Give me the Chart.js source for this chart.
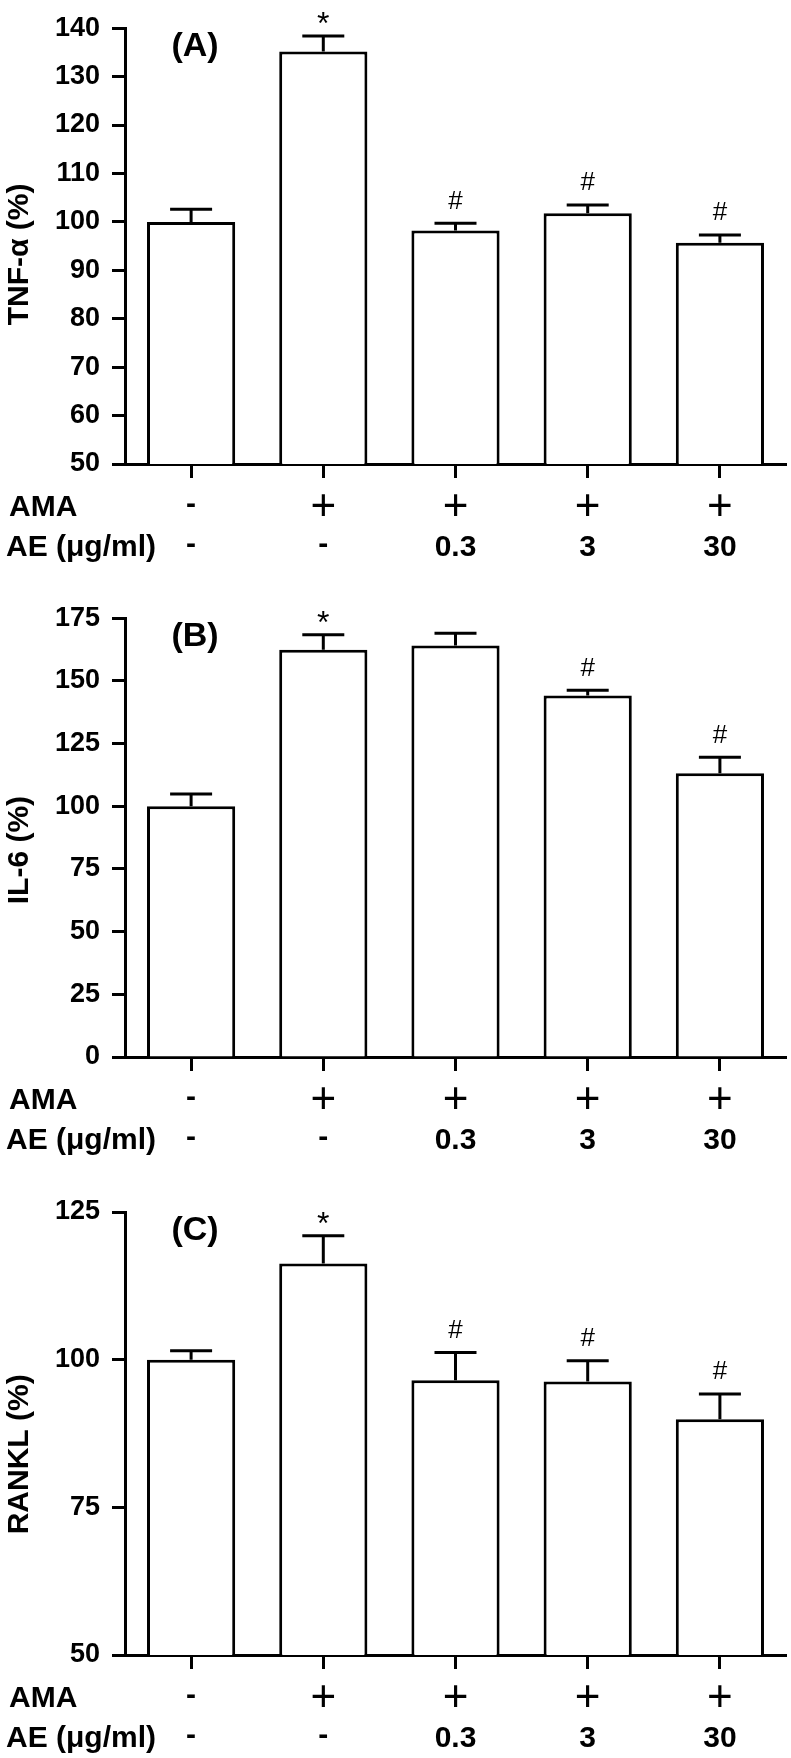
<!DOCTYPE html>
<html>
<head>
<meta charset="utf-8">
<script src="https://cdn.jsdelivr.net/npm/chart.js@4.4.0/dist/chart.umd.min.js"></script>
<style>
  body { margin: 0; background: #fff; }
  .panel { position: absolute; left: 0; width: 791px; }
</style>
</head>
<body>
<div class="panel" style="top:0;height:590px"><canvas id="chartA"></canvas></div>
<div class="panel" style="top:590px;height:590px"><canvas id="chartB"></canvas></div>
<div class="panel" style="top:1180px;height:578px"><canvas id="chartC"></canvas></div>
<script>
const categories = ["Control", "AMA", "AMA + AE 0.3", "AMA + AE 3", "AMA + AE 30"];
const amaRow = ["-", "+", "+", "+", "+"];
const aeRow = ["-", "-", "0.3", "3", "30"];

const tnfMean = [100, 135.2, 98.2, 101.8, 95.7];
const tnfErr = [2.6, 3.2, 1.5, 1.7, 1.6];
const tnfMarks = ["", "*", "#", "#", "#"];

const il6Mean = [100, 162.4, 164.1, 144.2, 113.2];
const il6Err = [4.9, 6.0, 4.9, 2.1, 6.3];
const il6Marks = ["", "*", "", "#", "#"];

const ranklMean = [100, 116.3, 96.5, 96.3, 89.9];
const ranklErr = [1.5, 4.7, 4.7, 3.5, 4.3];
const ranklMarks = ["", "*", "#", "#", "#"];

const FONT = '"Liberation Sans", Arial, sans-serif';

// draw a glyph so that its ink is centred on (x, cy)
function drawCentered(ctx, text, x, cy) {
  const m = ctx.measureText(text);
  ctx.textAlign = "center";
  ctx.textBaseline = "alphabetic";
  ctx.fillText(text, x, cy + (m.actualBoundingBoxAscent - m.actualBoundingBoxDescent) / 2);
}

const annotate = {
  id: "annotate",
  afterDraw(chart, args, opts) {
    const ctx = chart.ctx;
    const xs = chart.scales.x;
    const ys = chart.scales.y;
    const area = chart.chartArea;
    ctx.save();
    ctx.strokeStyle = "#000";
    ctx.fillStyle = "#000";
    ctx.lineWidth = 3;

    opts.means.forEach((m, i) => {
      const cx = xs.getPixelForValue(i);
      const top = ys.getPixelForValue(m);
      const cap = ys.getPixelForValue(m + opts.errors[i]);
      ctx.beginPath();
      ctx.moveTo(cx, top);
      ctx.lineTo(cx, cap);
      ctx.moveTo(cx - 21, cap);
      ctx.lineTo(cx + 21, cap);
      ctx.stroke();
      const mark = opts.marks[i];
      if (mark === "*") {
        ctx.font = "32px " + FONT;
        drawCentered(ctx, mark, cx, cap - 18);
      } else if (mark === "#") {
        ctx.font = "26px " + FONT;
        drawCentered(ctx, mark, cx, cap - 23.5);
      }
    });

    // panel letter
    ctx.font = "bold 34px " + FONT;
    drawCentered(ctx, opts.letter, area.left + 70, area.top + 19);

    // treatment rows under the axis
    const rowA = area.bottom + 41;
    const rowB = area.bottom + 81;
    ctx.font = "bold 30px " + FONT;
    ctx.textAlign = "left";
    ctx.textBaseline = "alphabetic";
    ctx.fillText("AMA", 9, rowA + 0.358 * 30);
    ctx.fillText("AE (\u03bcg/ml)", 6, rowB + 0.358 * 30);

    categories.forEach((c, i) => {
      const cx = xs.getPixelForValue(i);
      [[amaRow[i], rowA], [aeRow[i], rowB]].forEach(([t, cy]) => {
        if (t === "+") {
          ctx.font = "44px " + FONT;
          drawCentered(ctx, t, cx, cy);
        } else if (t === "-") {
          ctx.font = "bold 30px " + FONT;
          drawCentered(ctx, t, cx, cy);
        } else {
          ctx.font = "bold 30px " + FONT;
          ctx.textAlign = "center";
          ctx.fillText(t, cx, cy + 0.358 * 30);
        }
      });
    });
    ctx.restore();
  }
};

function makeChart(id, means, errors, marks, letter, title, min, max, step, topPad, bottomH) {
  return new Chart(document.getElementById(id), {
    type: "bar",
    data: {
      labels: categories,
      datasets: [{
        data: means,
        backgroundColor: "#fff",
        borderColor: "#000",
        borderWidth: 3,
        barPercentage: 0.667,
        categoryPercentage: 1
      }]
    },
    options: {
      responsive: true,
      maintainAspectRatio: false,
      animation: false,
      layout: { padding: { top: topPad, right: 5, left: 0, bottom: 0 } },
      plugins: {
        legend: { display: false },
        tooltip: { enabled: false },
        annotate: { means: means, errors: errors, marks: marks, letter: letter }
      },
      scales: {
        x: {
          z: 1,
          grid: { display: true, drawOnChartArea: false, offset: false, tickLength: 14, tickWidth: 3, tickColor: "#000" },
          border: { color: "#000", width: 3 },
          ticks: { display: false },
          afterFit(s) { s.height = bottomH; }
        },
        y: {
          z: 1,
          min: min,
          max: max,
          ticks: { stepSize: step, color: "#000", padding: 12, font: { family: FONT, size: 27, weight: "bold" } },
          grid: { drawOnChartArea: false, tickLength: 13, tickWidth: 3, tickColor: "#000" },
          border: { color: "#000", width: 3 },
          title: {
            display: true,
            text: title,
            color: "#000",
            font: { family: FONT, size: 30, weight: "bold" },
            padding: { top: 2, bottom: 0 }
          },
          afterFit(s) { s.width = 125; }
        }
      }
    },
    plugins: [annotate]
  });
}

makeChart("chartA", tnfMean, tnfErr, tnfMarks, "(A)", "TNF-\u03b1 (%)  ", 50, 140, 10, 24, 126);
makeChart("chartB", il6Mean, il6Err, il6Marks, "(B)", "IL-6 (%)   ", 0, 175, 25, 24, 123);
makeChart("chartC", ranklMean, ranklErr, ranklMarks, "(C)", "RANKL (%)     ", 50, 125, 25, 32, 103);
</script>
</body>
</html>
